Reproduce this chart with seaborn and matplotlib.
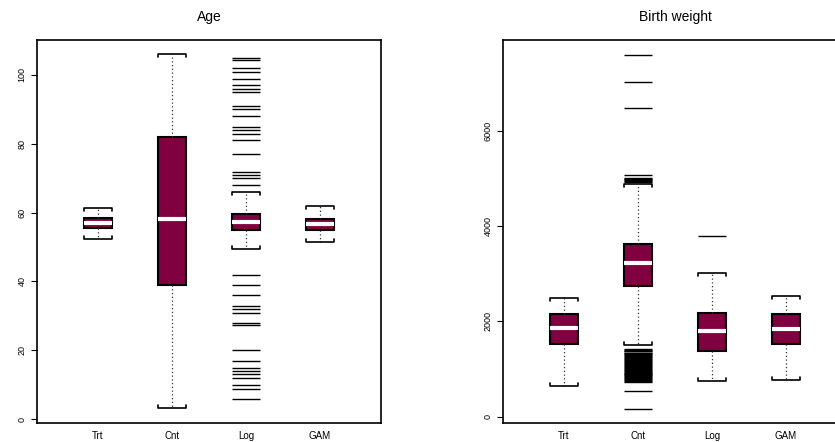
import numpy as np
import pandas as pd
import matplotlib
matplotlib.use("Agg")
import matplotlib.pyplot as plt
import seaborn as sns

methods = ["Trt", "Cnt", "Log", "GAM"]

# ---- Age panel: five-number summaries ----
age_low = [52.3, 3.3, 49.4, 51.5]
age_q1 = [55.4, 39.0, 54.8, 55.0]
age_med = [56.9, 58.0, 57.2, 56.7]
age_q3 = [58.3, 82.0, 59.5, 58.1]
age_high = [61.4, 106.0, 65.9, 62.0]
age_out_log = [105.0, 104.2, 102.1, 100.9, 98.9, 97.0, 96.0, 95.1, 91.0, 90.0,
               88.0, 84.8, 84.0, 82.9, 81.0, 77.0, 71.8, 71.0, 70.0, 68.0,
               41.9, 39.0, 36.0, 32.8, 32.1, 30.9, 27.8, 27.4, 20.0, 16.9,
               14.9, 14.0, 13.0, 12.0, 9.9, 8.9, 6.0]

# ---- Birth weight panel: five-number summaries ----
bw_low = [642, 1501, 753, 768]
bw_q1 = [1536, 2736, 1381, 1528]
bw_med = [1863, 3231, 1808, 1836]
bw_q3 = [2150, 3629, 2177, 2156]
bw_high = [2491, 4885, 3022, 2533]
bw_out_cnt = [7591, 7020, 6482, 5065, 5005, 4990, 4975, 4960, 4945, 4930,
              1431, 1410, 1390, 1372, 1350, 1330, 1312, 1290, 1270, 1252,
              1230, 1210, 1190, 1168, 1150, 1130, 1110, 1090, 1070, 1050,
              1030, 1010, 990, 970, 950, 930, 910, 890, 870, 850,
              830, 810, 790, 770, 750, 730, 538, 167]
bw_out_log = [3789]

titles = ["Age", "Birth weight"]
age_ticks = [0, 20, 40, 60, 80, 100]
bw_ticks = [0, 2000, 4000, 6000]

BOX_COLOR = "#800040"
BOX_W = 0.38

sns.set_style("white")
plt.rcParams["font.family"] = ["Liberation Sans", "DejaVu Sans"]
plt.rcParams["text.color"] = "black"
plt.rcParams["xtick.color"] = "black"
plt.rcParams["ytick.color"] = "black"
plt.rcParams["axes.labelcolor"] = "black"


def summary_frame(low, q1, med, q3, high):
    rows = []
    for m, a, b, c, d, e in zip(methods, low, q1, med, q3, high):
        for v in (a, b, c, d, e):
            rows.append({"method": m, "value": v})
    return pd.DataFrame(rows)


def outlier_frame(pairs):
    rows = []
    for m, vals in pairs:
        for v in vals:
            rows.append({"method": m, "value": v})
    return pd.DataFrame(rows)


fig = plt.figure(figsize=(8.35, 4.42), dpi=100)
ax1 = fig.add_axes([37 / 835, 19 / 442, 344 / 835, 383 / 442])
ax2 = fig.add_axes([503 / 835, 19 / 442, 344 / 835, 383 / 442])

panels = [
    (ax1, summary_frame(age_low, age_q1, age_med, age_q3, age_high),
     outlier_frame([("Log", age_out_log)]), (-1.1, 110.1), age_ticks),
    (ax2, summary_frame(bw_low, bw_q1, bw_med, bw_q3, bw_high),
     outlier_frame([("Cnt", bw_out_cnt), ("Log", bw_out_log)]), (-127, 7897), bw_ticks),
]

for (ax, df, dfo, ylim, yt), title in zip(panels, titles):
    sns.boxplot(data=df, x="method", y="value", order=methods, ax=ax,
                whis=np.inf, showfliers=False, width=BOX_W, saturation=1,
                color=BOX_COLOR, linecolor="black", linewidth=1.5,
                medianprops=dict(color="white", linewidth=3, solid_capstyle="butt"),
                whiskerprops=dict(color="#333333", linestyle=(0, (1, 2)), linewidth=0.9),
                capprops=dict(color="black", linewidth=1.2))
    sns.stripplot(data=dfo, x="method", y="value", order=methods, ax=ax,
                  jitter=False, marker="_", size=19.5, linewidth=1.0,
                  color="black", edgecolor="black", zorder=3)

    ax.set_xlim(-0.824, 3.824)
    ax.set_ylim(*ylim)

    # bracket-style staples, as in R
    ax_h_px = ax.get_window_extent().height
    d = 3.0 * (ylim[1] - ylim[0]) / ax_h_px
    for cont in ax.containers:
        caps = getattr(cont, "caps", None)
        if caps is None:
            continue
        for i, cap in enumerate(caps):
            xs = np.asarray(cap.get_xdata(), dtype=float)
            ys = np.asarray(cap.get_ydata(), dtype=float)
            xc = xs.mean()
            y = ys[0]
            s = 1 if i % 2 == 0 else -1
            x0, x1 = xc - BOX_W / 2, xc + BOX_W / 2
            cap.set_xdata([x0, x0, x1, x1])
            cap.set_ydata([y + s * d, y, y, y + s * d])

    ax.set_yticks(yt)
    ax.set_yticklabels([str(t) for t in yt], rotation=90, va="center", fontsize=6.5)
    ax.tick_params(axis="y", length=4.5, width=0.8, color="black", pad=3, left=True)
    ax.tick_params(axis="x", length=0, labelsize=7, pad=5.5)
    ax.set_xlabel("")
    ax.set_ylabel("")
    ax.set_title(title, fontsize=10, pad=14, color="black")
    for sp in ax.spines.values():
        sp.set_visible(True)
        sp.set_color("black")
        sp.set_linewidth(1.2)

fig.savefig("out.png", dpi=100)
